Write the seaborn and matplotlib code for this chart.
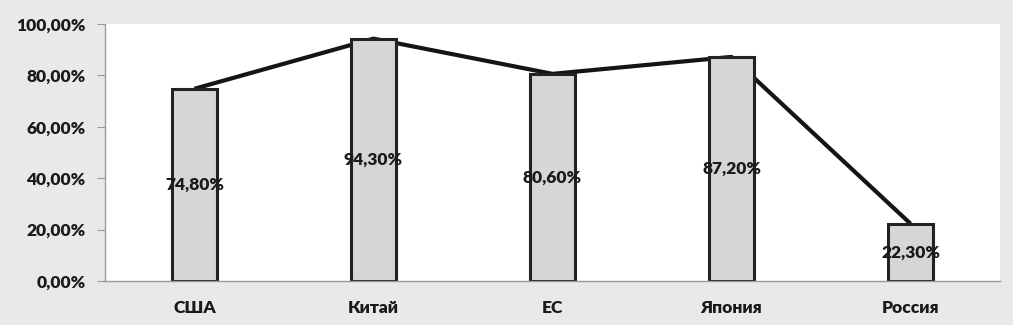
import matplotlib
matplotlib.use("Agg")
import matplotlib.pyplot as plt
import matplotlib.ticker as mticker
import seaborn as sns
import pandas as pd

countries = ["США", "Китай", "ЕС", "Япония", "Россия"]
shares = [74.8, 94.3, 80.6, 87.2, 22.3]
labels = ["74,80%", "94,30%", "80,60%", "87,20%", "22,30%"]

df = pd.DataFrame({"country": countries, "share": shares})

sns.set_style("white")
plt.rcParams["font.family"] = ["Lato", "DejaVu Sans"]

fig = plt.figure(figsize=(10.13, 3.25), dpi=100, facecolor="#e9e9e9")
ax = fig.add_axes([105 / 1013, 44 / 325, 895 / 1013, 257 / 325])
ax.set_facecolor("white")

# line first so the bars cover it inside the columns
ax.plot(range(len(shares)), df["share"], color="#151515", lw=3, zorder=1,
        solid_joinstyle="bevel", solid_capstyle="butt")
sns.barplot(data=df, x="country", y="share", ax=ax, width=0.25,
            color="#d6d6d6", edgecolor="#222222", linewidth=2.2, saturation=1, zorder=2)

for i, (v, txt) in enumerate(zip(shares, labels)):
    ax.text(i, v / 2, txt, ha="center", va="center", fontsize=12.5,
            fontweight="heavy", color="#1a1a1a", zorder=3)

ax.set_ylim(0, 100)
ax.set_xlim(-0.5, 4.5)
ax.set_yticks(range(0, 101, 20))
ax.yaxis.set_major_formatter(mticker.FuncFormatter(lambda y, _: f"{y:.2f}%".replace(".", ",")))
ax.set_xlabel("")
ax.set_ylabel("")
ax.tick_params(axis="y", left=True, length=6, color="#999999", labelsize=12.5, pad=8)
ax.tick_params(axis="x", bottom=False, labelsize=12.5, pad=10)
for lab in ax.get_xticklabels() + ax.get_yticklabels():
    lab.set_fontweight("heavy")
    lab.set_color("#1a1a1a")
for s in ["top", "right"]:
    ax.spines[s].set_visible(False)
for s in ["left", "bottom"]:
    ax.spines[s].set_color("#999999")
    ax.spines[s].set_linewidth(1)

fig.savefig("out.png", dpi=100, facecolor=fig.get_facecolor())
